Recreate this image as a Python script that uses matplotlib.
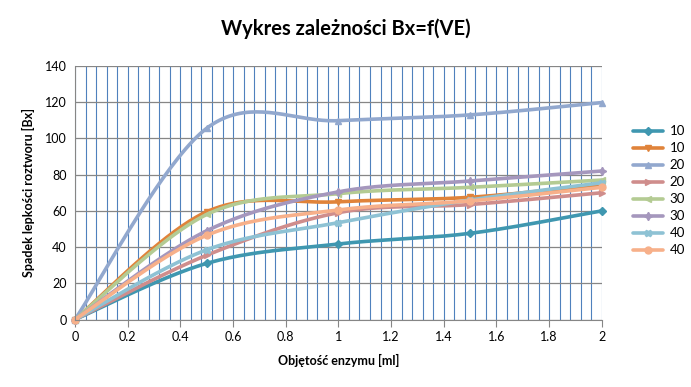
import numpy as np
import matplotlib
matplotlib.use("Agg")
import matplotlib.pyplot as plt
from matplotlib.ticker import MultipleLocator, FuncFormatter

plt.rcParams['font.family'] = ['Lato', 'DejaVu Sans']

x = [0, 0.5, 1.0, 1.5, 2.0]
labels = ["10", "10", "20", "20", "30", "30", "40", "40"]
s10a = [0, 31, 41.7, 47.6, 60]
s10b = [0, 59.5, 65, 67.5, 74.5]
s20a = [0, 105.6, 109.8, 113, 119.8]
s20b = [0, 35.5, 59, 63.5, 70]
s30a = [0, 58, 69.5, 73, 77]
s30b = [0, 49, 70.5, 76.5, 82]
s40a = [0, 38.5, 53.5, 66, 75.5]
s40b = [0, 46.5, 60.5, 65.5, 73]
series = [s10a, s10b, s20a, s20b, s30a, s30b, s40a, s40b]

colors = ["#3F97B0", "#E0833A", "#92A8CE", "#CF8D8C", "#B4CB93",
          "#A597BD", "#8EC2D4", "#F7B08A"]
markers = ["D", "v", "^", ">", "<", (4, 1, 0), "X", "o"]
msizes = [4.5, 5, 5, 5, 5, 6, 5, 5]


def catmull_rom(px, py, n=40):
    P = np.column_stack([px, py]).astype(float)
    P_ext = np.vstack([P[0], P, P[-1]])
    out = [P[0:1]]
    idx = [0]
    for i in range(1, len(P_ext) - 2):
        p0, p1, p2, p3 = P_ext[i - 1], P_ext[i], P_ext[i + 1], P_ext[i + 2]
        m1 = (p2 - p0) / 2.0
        m2 = (p3 - p1) / 2.0
        t = np.linspace(0, 1, n + 1)[1:][:, None]
        h00 = 2 * t**3 - 3 * t**2 + 1
        h10 = t**3 - 2 * t**2 + t
        h01 = -2 * t**3 + 3 * t**2
        h11 = t**3 - t**2
        seg = h00 * p1 + h10 * m1 + h01 * p2 + h11 * m2
        out.append(seg)
        idx.append(idx[-1] + n)
    arr = np.vstack(out)
    return arr[:, 0], arr[:, 1], idx


fig = plt.figure(figsize=(6.91, 3.87), dpi=100)
ax = fig.add_axes([0.1085, 0.1744, 0.7625, 0.6551])

for ys, c, m, ms, lab in zip(series, colors, markers, msizes, labels):
    sx, sy, idx = catmull_rom(x, ys)
    ax.plot(sx, sy, color=c, lw=2.6, marker=m, markevery=idx, ms=ms,
            mfc=c, mec=c, label=lab, solid_capstyle='round', clip_on=False)

ax.set_xlim(0, 2)
ax.set_ylim(0, 140)
ax.xaxis.set_major_locator(MultipleLocator(0.2))
ax.xaxis.set_minor_locator(MultipleLocator(0.04))
ax.yaxis.set_major_locator(MultipleLocator(20))
ax.xaxis.set_major_formatter(FuncFormatter(lambda v, p: f"{v:g}"))

ax.grid(True, which='both', axis='x', color='#4F81BD', lw=0.8)
ax.grid(True, which='major', axis='y', color='#868686', lw=0.9)
ax.set_axisbelow(True)
for side in ['top', 'right']:
    ax.spines[side].set_visible(False)
for side in ['left', 'bottom']:
    ax.spines[side].set_color('#868686')
ax.tick_params(axis='x', which='major', length=5, color='#868686', labelsize=9)
ax.tick_params(axis='x', which='minor', length=0)
ax.tick_params(axis='y', length=0, labelsize=9, pad=6)

ax.set_xlabel("Objętość enzymu [ml]", fontsize=9, fontweight='bold', labelpad=8)
ax.set_ylabel("Spadek lepkości roztworu [Bx]", fontsize=9, fontweight='bold', labelpad=7)
fig.text(0.5, 0.925, "Wykres zależności Bx=f(VE)", ha='center', va='center',
         fontsize=14.5, fontweight='bold')

ax.legend(loc='upper left', bbox_to_anchor=(0.908, 0.69), bbox_transform=fig.transFigure,
          frameon=False, fontsize=9.5, handlelength=2.3, labelspacing=0.38,
          handletextpad=0.5, borderaxespad=0)

fig.savefig("out.png", dpi=100)
